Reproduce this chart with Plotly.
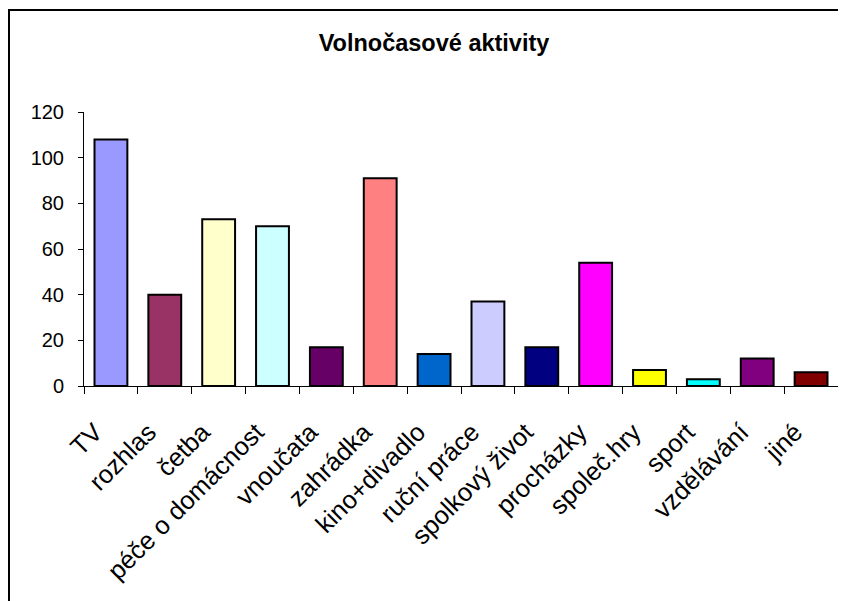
import plotly.graph_objects as go

categories = ["TV", "rozhlas", "četba", "péče o domácnost", "vnoučata", "zahrádka",
              "kino+divadlo", "ruční práce", "spolkový život", "procházky",
              "společ.hry", "sport", "vzdělávání", "jiné"]
values = [108, 40, 73, 70, 17, 91, 14, 37, 17, 54, 7, 3, 12, 6]
colors = ["#9999FF", "#993366", "#FFFFCC", "#CCFFFF", "#660066", "#FF8080",
          "#0066CC", "#CCCCFF", "#000080", "#FF00FF", "#FFFF00", "#00FFFF",
          "#800080", "#800000"]
y_ticks = [0, 20, 40, 60, 80, 100, 120]

# the page body has an 8px margin, so figure coords = screen coords - 8
OFF = 8
W, H = 846 - OFF, 601 - OFF
L, R, T, B = 84 - OFF, 8, 112 - OFF, 601 - 386
pw, ph = W - L - R, H - T - B

def px(sx):
    return (sx - OFF - L) / pw

def py(sy):
    return (H - B - (sy - OFF)) / ph

fig = go.Figure(go.Bar(
    x=categories, y=values,
    marker=dict(color=colors, line=dict(color="black", width=2)),
    width=0.61,
))

font = "Liberation Sans, Arial, sans-serif"
fig.update_layout(
    width=W, height=H,
    margin=dict(l=L, r=R, t=T, b=B),
    paper_bgcolor="white", plot_bgcolor="white",
    showlegend=False,
    font=dict(family=font, size=20, color="black"),
    title=dict(text="<b>Volnočasové aktivity</b>", x=(434 - OFF) / W, xanchor="center",
               y=1 - (43 - OFF) / H, yanchor="middle", font=dict(size=23.5, family=font)),
    xaxis=dict(showline=True, linecolor="black", linewidth=1, ticks="outside",
               tickson="boundaries", ticklen=7, tickcolor="black",
               tickangle=-45, showgrid=False, zeroline=False,
               tickfont=dict(size=25.5), ticklabelstandoff=20, ticklabelshift=-16,
               range=[-0.5, len(categories) - 0.5]),
    yaxis=dict(showline=True, linecolor="black", linewidth=1, ticks="outside",
               ticklen=5, tickcolor="black", tickvals=y_ticks, range=[0, 120],
               showgrid=False, zeroline=False, ticklabelstandoff=10),
    shapes=[
        dict(type="line", xref="paper", yref="paper", x0=px(8), x1=px(845),
             y0=py(10), y1=py(10), line=dict(color="black", width=2)),
        dict(type="line", xref="paper", yref="paper", x0=px(9), x1=px(9),
             y0=py(10), y1=py(610), line=dict(color="black", width=2)),
    ],
)

fig.write_html("out.html")
